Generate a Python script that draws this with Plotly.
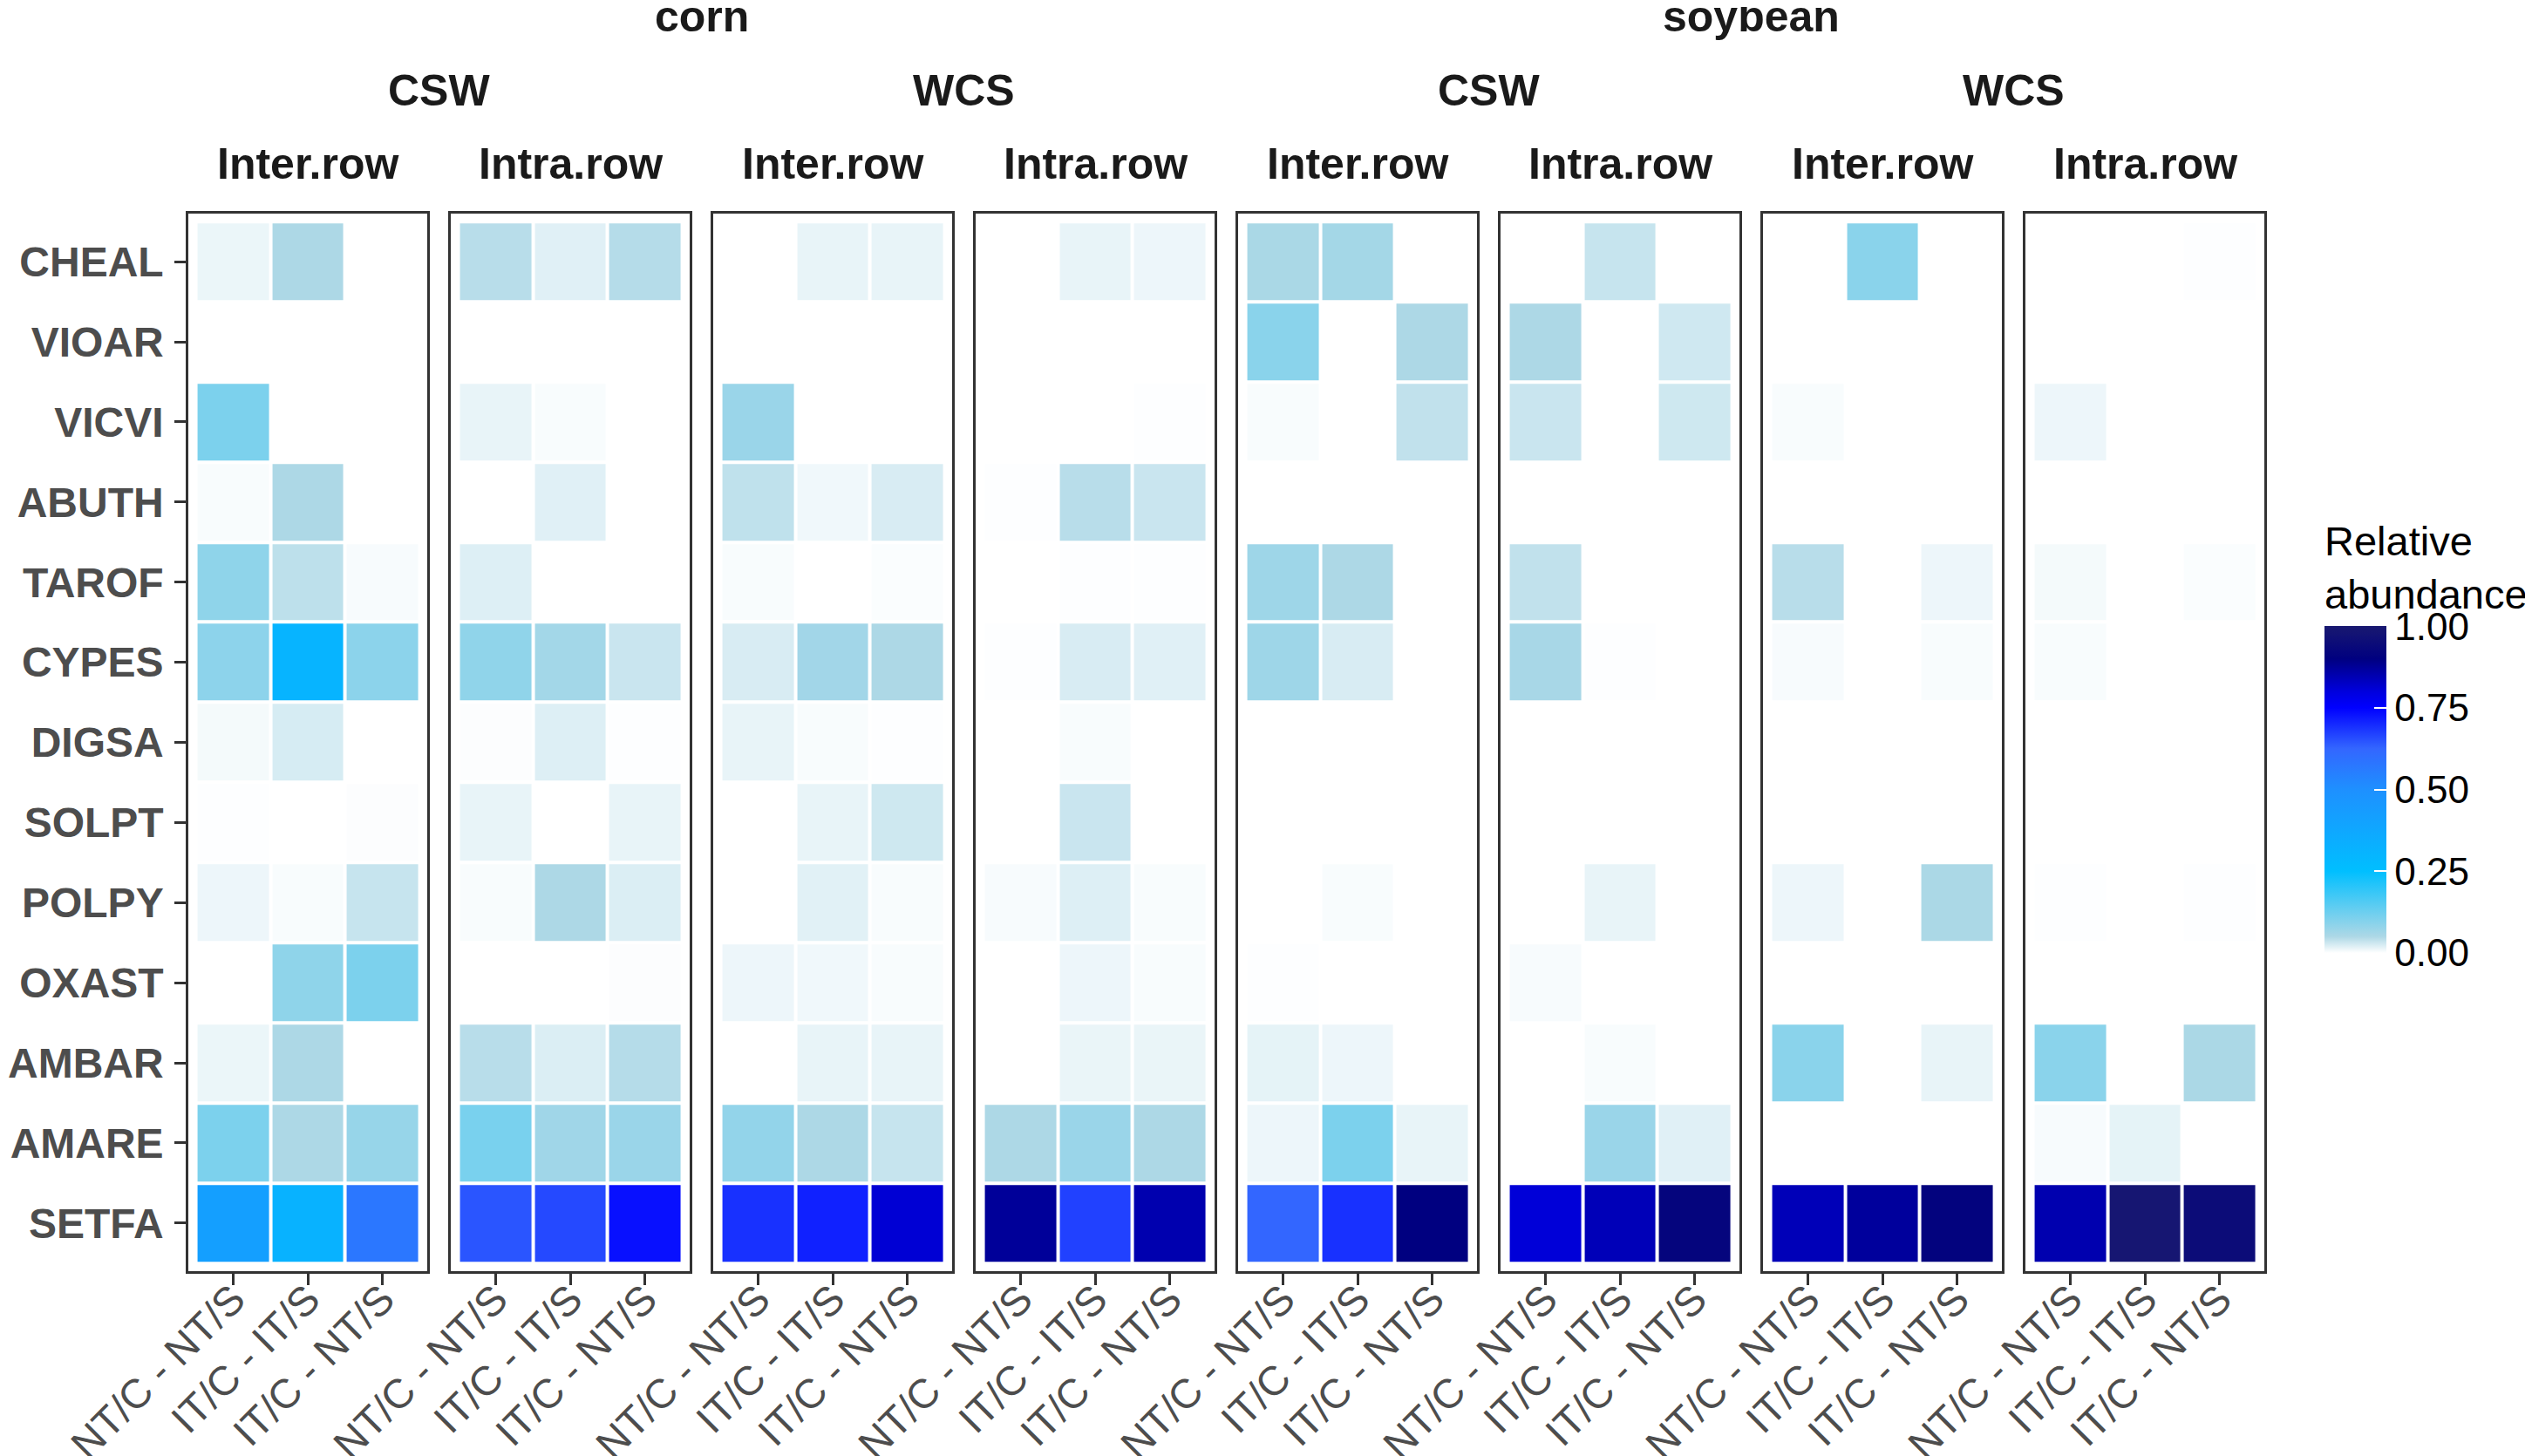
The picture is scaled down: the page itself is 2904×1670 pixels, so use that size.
import plotly.graph_objects as go

species = ['CHEAL', 'VIOAR', 'VICVI', 'ABUTH', 'TAROF', 'CYPES', 'DIGSA',
           'SOLPT', 'POLPY', 'OXAST', 'AMBAR', 'AMARE', 'SETFA']
comparisons = ['NT/C - NT/S', 'IT/C - IT/S', 'IT/C - NT/S']
crops = ['corn', 'soybean']
rotations = ['CSW', 'WCS']
positions = ['Inter.row', 'Intra.row']

# relative abundance, rows = species (top to bottom), cols = comparisons
corn_csw_inter = [
    [0.012, 0.05, None], [None, None, None], [0.107, None, None],
    [0.004, 0.05, None], [0.085, 0.04, 0.005], [0.087, 0.31, 0.088],
    [0.007, 0.025, None], [0.001, None, 0.002], [0.011, 0.004, 0.035],
    [None, 0.085, 0.107], [0.012, 0.05, None], [0.107, 0.05, 0.075],
    [0.42, 0.32, 0.575]]
corn_csw_intra = [
    [0.043, 0.019, 0.045], [None, None, None], [0.014, 0.004, None],
    [None, 0.019, None], [0.021, None, None], [0.084, 0.062, 0.033],
    [0.002, 0.021, 0.001], [0.014, None, 0.014], [0.004, 0.05, 0.022],
    [None, None, 0.002], [0.043, 0.022, 0.045], [0.11, 0.065, 0.072],
    [0.646, 0.66, 0.73]]
corn_wcs_inter = [
    [None, 0.014, 0.014], [None, None, None], [0.072, None, None],
    [0.039, 0.009, 0.024], [0.004, None, 0.003], [0.024, 0.063, 0.05],
    [0.014, 0.004, 0.001], [None, 0.014, 0.030], [None, 0.018, 0.004],
    [0.011, 0.009, 0.004], [None, 0.014, 0.014], [0.08, 0.05, 0.035],
    [0.69, 0.71, 0.81]]
corn_wcs_intra = [
    [None, 0.014, 0.011], [None, None, None], [None, None, 0.001],
    [0.001, 0.043, 0.033], [None, 0.001, 0.001], [0.001, 0.024, 0.019],
    [None, 0.004, None], [None, 0.033, None], [0.005, 0.021, 0.004],
    [None, 0.011, 0.004], [None, 0.013, 0.013], [0.05, 0.072, 0.05],
    [0.873, 0.67, 0.85]]
soy_csw_inter = [
    [0.053, 0.06, None], [0.09, None, 0.05], [0.004, None, 0.038],
    [None, None, None], [0.067, 0.05, None], [0.067, 0.024, None],
    [None, None, None], [None, None, None], [None, 0.004, None],
    [0.001, None, None], [0.016, 0.011, None], [0.011, 0.107, 0.014],
    [0.625, 0.69, 0.9]]
soy_csw_intra = [
    [None, 0.035, None], [0.05, None, 0.029], [0.033, None, 0.030],
    [None, None, None], [0.038, None, None], [0.056, 0.001, None],
    [None, None, None], [None, None, None], [None, 0.014, None],
    [0.005, None, None], [None, 0.004, None], [None, 0.072, 0.019],
    [0.805, 0.84, 0.92]]
soy_wcs_inter = [
    [None, 0.09, None], [None, None, None], [0.004, None, None],
    [None, None, None], [0.043, None, 0.011], [0.005, None, 0.004],
    [None, None, None], [None, None, None], [0.011, None, 0.052],
    [None, None, None], [0.09, None, 0.014], [None, None, None],
    [0.84, 0.87, 0.91]]
soy_wcs_intra = [
    [None, None, 0.001], [None, None, None], [0.011, None, None],
    [None, None, None], [0.007, None, 0.003], [0.004, None, None],
    [None, None, None], [None, None, None], [0.001, None, 0.001],
    [None, None, None], [0.09, None, 0.052], [0.005, 0.016, None],
    [0.85, 0.99, 0.95]]

panels = [corn_csw_inter, corn_csw_intra, corn_wcs_inter, corn_wcs_intra,
          soy_csw_inter, soy_csw_intra, soy_wcs_inter, soy_wcs_intra]

W, H = 2904, 1670
left0, step, pw = 208, 301.0, 274
top, bottom = 237, 1450

colorscale = [
    [0.0, '#FFFFFF'], [0.05, '#ADD8E6'], [0.25, '#00BFFF'],
    [0.5, '#1E90FF'], [0.625, '#3366FF'], [0.75, '#0000FF'],
    [0.8, '#0000DD'], [0.9, '#000080'], [1.0, '#191970']]

fig = go.Figure()
font = 'Liberation Sans, Arial, sans-serif'
ydom = [1 - bottom / H, 1 - top / H]

for i, z in enumerate(panels):
    n = '' if i == 0 else str(i + 1)
    fig.add_trace(go.Heatmap(
        z=z, x=comparisons, y=species, coloraxis='coloraxis',
        xgap=4, ygap=4, xaxis='x' + n, yaxis='y' + n,
        hoverongaps=False))
    x0 = (left0 + step * i) / W
    x1 = (left0 + step * i + pw) / W
    axis_common = dict(showline=True, mirror=True, linecolor='#333333',
                       linewidth=2.5, showgrid=False, zeroline=False,
                       ticklen=13, tickwidth=2.5, tickcolor='#333333',
                       automargin=False)
    fig.layout['xaxis' + n] = dict(
        domain=[x0, x1], anchor='y' + n, type='category',
        categoryorder='array', categoryarray=comparisons,
        range=[-0.6, 2.6], tickangle=-45, ticks='outside',
        ticklabelstandoff=-30,
        tickfont=dict(family=font, size=47, color='#4D4D4D'),
        **axis_common)
    fig.layout['yaxis' + n] = dict(
        domain=ydom, anchor='x' + n, type='category',
        categoryorder='array', categoryarray=species[::-1],
        range=[-0.6, 12.6], showticklabels=(i == 0),
        ticks='outside' if i == 0 else '',
        tickfont=dict(family=font, size=48, color='#4D4D4D', weight='bold'),
        ticklabelstandoff=3,
        **axis_common)

# facet strip labels
def px(x):
    return x / W

annotations = []
strip_font = dict(family=font, size=50, color='#1A1A1A', weight='bold')
for c, crop in enumerate(crops):
    a = left0 + step * 4 * c
    b = left0 + step * (4 * c + 3) + pw
    annotations.append(dict(text=crop, x=px((a + b) / 2), y=1 - 11 / H))
    for r, rot in enumerate(rotations):
        k = 4 * c + 2 * r
        a = left0 + step * k
        b = left0 + step * (k + 1) + pw
        annotations.append(dict(text=rot, x=px((a + b) / 2), y=1 - 96 / H))
        for p, pos in enumerate(positions):
            m = left0 + step * (k + p) + pw / 2
            annotations.append(dict(text=pos, x=px(m), y=1 - 180 / H))
for a in annotations:
    a.update(xref='paper', yref='paper', showarrow=False,
             xanchor='center', yanchor='middle', font=strip_font)

fig.update_layout(
    width=W, height=H, margin=dict(l=0, r=0, t=0, b=0, autoexpand=False),
    paper_bgcolor='white', plot_bgcolor='white',
    annotations=annotations,
    coloraxis=dict(
        cmin=0, cmax=1, colorscale=colorscale,
        colorbar=dict(
            title=dict(text='Relative<br>abundance', side='top',
                       font=dict(family=font, size=47, color='#000000')),
            x=2658 / W, xanchor='left', xpad=0,
            y=1 - 1085 / H, yanchor='bottom', ypad=0,
            len=494, lenmode='pixels', thickness=71, thicknessmode='pixels',
            outlinewidth=0, ticks='inside', ticklen=14, tickwidth=2,
            tickcolor='white', tickvals=[0, 0.25, 0.5, 0.75, 1],
            ticktext=['0.00', '0.25', '0.50', '0.75', '1.00'],
            tickfont=dict(family=font, size=44, color='#000000'))),
    showlegend=False)

fig.write_html('out.html')
